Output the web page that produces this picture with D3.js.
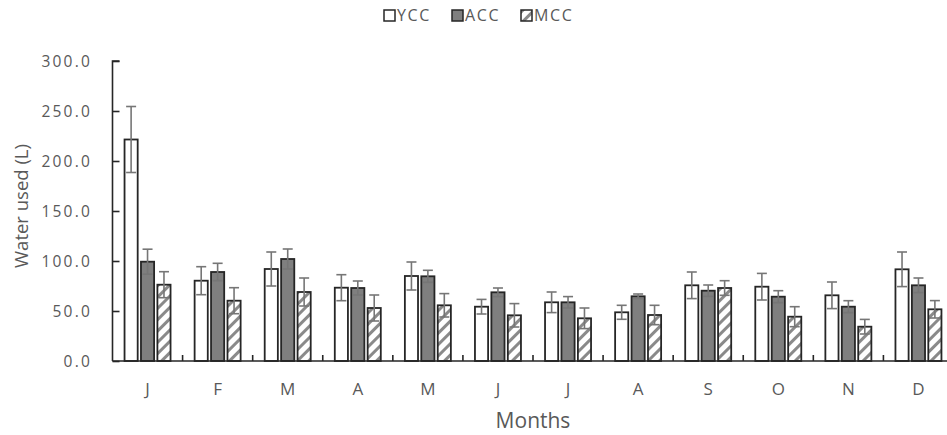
<!DOCTYPE html>
<html>
<head>
<meta charset="utf-8">
<script src="https://cdn.jsdelivr.net/npm/d3@7"></script>
<style>
  html, body { margin: 0; padding: 0; background: #fff; }
  svg text { font-family: "Open Sans", "DejaVu Sans", sans-serif; fill: #595959; }
</style>
</head>
<body>
<svg id="chart" width="947" height="435"></svg>
<script>
const months = ["J", "F", "M", "A", "M", "J", "J", "A", "S", "O", "N", "D"];
const seriesNames = ["YCC", "ACC", "MCC"];
const ycc = [221.5, 80.3, 92.0, 73.3, 85.0, 54.3, 58.7, 48.7, 75.7, 74.3, 65.7, 91.7];
const yccErr = [33.0, 14.0, 17.0, 13.0, 14.0, 7.3, 10.3, 7.0, 13.3, 13.3, 13.3, 17.3];
const acc = [99.3, 89.0, 102.0, 73.0, 84.7, 68.7, 58.7, 64.7, 70.3, 64.3, 54.3, 75.7];
const accErr = [12.5, 8.7, 10.0, 7.0, 6.0, 4.3, 5.7, 2.3, 5.7, 6.0, 6.0, 7.3];
const mcc = [76.3, 60.3, 69.0, 53.0, 55.7, 45.7, 42.7, 46.0, 73.0, 44.3, 34.3, 51.7];
const mccErr = [13.0, 13.0, 14.0, 13.0, 11.7, 11.7, 10.3, 9.7, 7.3, 10.0, 7.3, 8.7];
const yTicks = [0, 50, 100, 150, 200, 250, 300];
const yLabel = "Water used (L)";
const xLabel = "Months";

const values = [ycc, acc, mcc];
const errors = [yccErr, accErr, mccErr];

const svg = d3.select("#chart");
const mLeft = 112.5, mRight = 953.5, mTop = 61, mBottom = 361;

const x0 = d3.scaleBand().domain(d3.range(months.length)).range([mLeft, mRight]).padding(0);
const x1 = d3.scaleBand().domain(seriesNames).range([-23, 23]).paddingInner(0.2).paddingOuter(0);
const y = d3.scaleLinear().domain([0, 300]).range([mBottom, mTop]);

// hatch pattern
const defs = svg.append("defs");
const pat = defs.append("pattern")
  .attr("id", "hatch").attr("patternUnits", "userSpaceOnUse")
  .attr("width", 8).attr("height", 8)
  .attr("patternTransform", "rotate(45)");
pat.append("rect").attr("width", 8).attr("height", 8).attr("fill", "#fff");
pat.append("rect").attr("x", 0).attr("width", 3).attr("height", 8).attr("fill", "#8a8a8a");

const fills = { YCC: "#ffffff", ACC: "#7f7f7f", MCC: "url(#hatch)" };

const rows = [];
months.forEach((m, i) => {
  seriesNames.forEach((s, k) => {
    rows.push({ i, s, v: values[k][i], e: errors[k][i] });
  });
});

// bars
svg.append("g").selectAll("rect").data(rows).join("rect")
  .attr("x", d => x0(d.i) + x0.bandwidth() / 2 + x1(d.s))
  .attr("width", x1.bandwidth())
  .attr("y", d => y(d.v))
  .attr("height", d => y(0) - y(d.v))
  .attr("fill", d => fills[d.s])
  .attr("stroke", "#262626")
  .attr("stroke-width", 1.8);

// error bars
const eg = svg.append("g").attr("stroke", "#767676").attr("stroke-width", 1.6).attr("fill", "none");
const cx = d => x0(d.i) + x0.bandwidth() / 2 + x1(d.s) + x1.bandwidth() / 2;
eg.selectAll("line.v").data(rows).join("line").attr("class", "v")
  .attr("x1", cx).attr("x2", cx)
  .attr("y1", d => y(d.v - d.e)).attr("y2", d => y(d.v + d.e));
eg.selectAll("line.c").data(rows).join("line").attr("class", "c")
  .attr("x1", d => cx(d) - 5).attr("x2", d => cx(d) + 5)
  .attr("y1", d => y(d.v + d.e)).attr("y2", d => y(d.v + d.e));
eg.selectAll("line.b").data(rows).join("line").attr("class", "b")
  .attr("x1", d => cx(d) - 5).attr("x2", d => cx(d) + 5)
  .attr("y1", d => y(d.v - d.e)).attr("y2", d => y(d.v - d.e));

// y axis
const yAxis = d3.axisRight(y).tickValues(yTicks).tickSize(7).tickFormat("");
const yg = svg.append("g").attr("transform", `translate(${mLeft},0)`).call(yAxis);
yg.select(".domain").attr("stroke", "#262626").attr("stroke-width", 1.6).attr("d", `M7,${mTop}H0V${mBottom}`);
yg.selectAll(".tick line").attr("stroke", "#262626").attr("stroke-width", 1.6);
svg.append("g").selectAll("text").data(yTicks).join("text")
  .attr("x", 92).attr("y", d => y(d)).attr("dy", "0.36em")
  .attr("text-anchor", "end")
  .attr("font-size", "15.5px")
  .attr("letter-spacing", "2.2px")
  .text(d => d3.format(".1f")(d));

// x axis
const xg = svg.append("g").attr("transform", `translate(0,${mBottom})`);
xg.append("line").attr("x1", mLeft).attr("x2", mRight).attr("stroke", "#262626").attr("stroke-width", 1.6);
xg.selectAll("line.t").data(d3.range(1, months.length + 1)).join("line").attr("class", "t")
  .attr("x1", d => x0(d - 1) + x0.bandwidth()).attr("x2", d => x0(d - 1) + x0.bandwidth())
  .attr("y1", 0).attr("y2", -6).attr("stroke", "#262626").attr("stroke-width", 1.6);
xg.selectAll("text").data(months).join("text")
  .attr("x", (d, i) => x0(i) + x0.bandwidth() / 2)
  .attr("y", 34)
  .attr("text-anchor", "middle")
  .attr("font-size", "17px")
  .text(d => d);

// axis titles
svg.append("text").attr("x", (mLeft + mRight) / 2).attr("y", 428)
  .attr("text-anchor", "middle").attr("font-size", "21px").text(xLabel);
svg.append("text").attr("transform", `translate(28,${206}) rotate(-90)`)
  .attr("text-anchor", "middle").attr("font-size", "18.5px").text(yLabel);

// legend
const legX = [384, 452, 521];
const lg = svg.append("g").selectAll("g").data(seriesNames).join("g")
  .attr("transform", (d, i) => `translate(${legX[i]},10)`);
lg.append("rect").attr("width", 11).attr("height", 11)
  .attr("fill", d => fills[d]).attr("stroke", "#262626").attr("stroke-width", 1.5);
lg.append("text").attr("x", 13).attr("y", 5.5).attr("dy", "0.36em")
  .attr("font-size", "16px").attr("letter-spacing", "1.6px").text(d => d);
</script>
</body>
</html>
